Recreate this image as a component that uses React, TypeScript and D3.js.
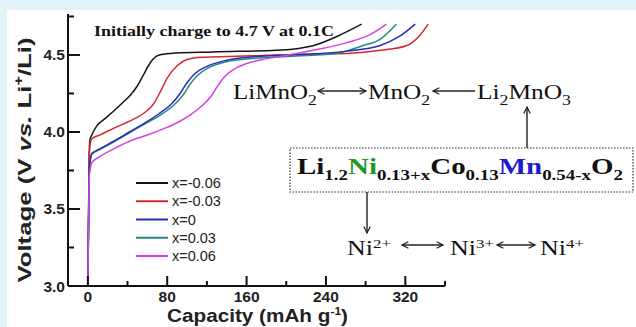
import { useMemo } from 'react';
import * as d3 from 'd3';

// charge curves, [capacity mAh/g, voltage V]
const curveNeg006: [number, number][] = [
  [0, 3.0], [0.8, 3.5], [1.3, 3.85], [2.2, 3.95], [4, 3.98], [9, 4.04], [16, 4.08], [25, 4.13],
  [35, 4.19], [43, 4.24], [50, 4.3], [56, 4.37], [61, 4.43], [66, 4.475], [72, 4.5], [83, 4.51],
  [126, 4.52], [190, 4.53], [227, 4.56], [251, 4.62], [276, 4.7],
];
const curveNeg003: [number, number][] = [
  [0, 3.0], [0.8, 3.5], [1.4, 3.82], [2.5, 3.93], [4, 3.956], [12, 3.98], [28, 4.03], [42, 4.07],
  [58, 4.13], [66, 4.18], [73, 4.26], [80, 4.35], [90, 4.43], [100, 4.47], [115, 4.485],
  [143, 4.49], [190, 4.5], [261, 4.51], [295, 4.53], [321, 4.56], [335, 4.63], [343, 4.7],
];
const curveZero: [number, number][] = [
  [0, 3.0], [0.9, 3.5], [1.6, 3.76], [4, 3.86], [12, 3.89], [26, 3.94], [42, 4.0], [58, 4.06],
  [72, 4.12], [84, 4.18], [93, 4.25], [100, 4.32], [108, 4.38], [118, 4.42], [136, 4.46],
  [170, 4.49], [200, 4.5], [261, 4.525], [294, 4.56], [314, 4.62], [330, 4.7],
];
const curvePos003: [number, number][] = [
  [0, 3.0], [0.9, 3.5], [1.6, 3.76], [4, 3.855], [12, 3.885], [26, 3.935], [42, 3.995],
  [58, 4.055], [73, 4.11], [86, 4.17], [96, 4.24], [103, 4.31], [111, 4.37], [121, 4.415],
  [139, 4.455], [172, 4.48], [200, 4.49], [250, 4.51], [277, 4.56], [294, 4.6], [311, 4.7],
];
const curvePos006: [number, number][] = [
  [0, 3.0], [0.9, 3.5], [1.6, 3.72], [4, 3.8], [12, 3.84], [26, 3.89], [42, 3.94], [60, 3.98],
  [76, 4.02], [90, 4.06], [103, 4.11], [115, 4.17], [124, 4.23], [131, 4.3], [138, 4.36],
  [148, 4.41], [160, 4.445], [176, 4.47], [194, 4.49], [227, 4.53], [261, 4.58], [284, 4.63],
  [301, 4.7],
];

const seriesNames = ['x=-0.06', 'x=-0.03', 'x=0', 'x=0.03', 'x=0.06'];
const seriesColors = ['#141414', '#d8282c', '#2a2ab8', '#238a84', '#d443e0'];
const seriesData = [curveNeg006, curveNeg003, curveZero, curvePos003, curvePos006];
// curves drawn back-to-front
const drawOrder = [0, 1, 3, 2, 4];

const xMajorTicks = [0, 80, 160, 240, 320];
const xMinorTicks = [40, 120, 200, 280, 360];
const yMajorTicks = [3.0, 3.5, 4.0, 4.5];
const yMinorTicks = [3.25, 3.75, 4.25, 4.75];

const W = 636;
const H = 327;
const sans = '"Liberation Sans", Arial, sans-serif';
const serif = '"Liberation Serif", "Times New Roman", serif';
// serif annotations in the picture are drawn wider than the font
const stretch = (x0: number, k: number) => `translate(${x0},0) scale(${k},1) translate(${-x0},0)`;

const App = () => {
  const x = d3.scaleLinear().domain([-20, 360]).range([68, 445]);
  const y = d3.scaleLinear().domain([3.0, 4.766]).range([286, 14]);

  const paths = useMemo(() => {
    const line = d3.line<[number, number]>()
      .x((d) => x(d[0]))
      .y((d) => y(d[1]))
      .curve(d3.curveMonotoneX);
    return seriesData.map((s) => line(s) as string);
  }, []);

  const legendY = d3.scalePoint<string>().domain(seriesNames).range([183, 256]);
  const x0 = x(-20);
  const y0 = y(3.0);

  return (
    <svg width={W} height={H} style={{ position: 'absolute', left: 0, top: 0, display: 'block' }}>
      <defs>
        <marker id="ah" viewBox="0 0 10 10" refX="9" refY="5" markerWidth="8" markerHeight="8"
          markerUnits="userSpaceOnUse" orient="auto-start-reverse">
          <path d="M1,1 L9,5 L1,9" fill="none" stroke="#222" strokeWidth="1.5" />
        </marker>
      </defs>
      <rect x={0} y={0} width={W} height={H} fill="#e2f2fa" />
      <rect x={7} y={10} width={W - 7} height={H - 10} fill="#ffffff" />

      {/* curves */}
      {drawOrder.map((i) => (
        <path key={i} d={paths[i]} fill="none" stroke={seriesColors[i]} strokeWidth={1.5} />
      ))}

      {/* axes, ticks pointing inward */}
      <g stroke="#111" strokeWidth={2}>
        <line x1={x0} x2={x(360)} y1={y0} y2={y0} />
        <line x1={x0} x2={x0} y1={y0} y2={y(4.766)} />
        {xMajorTicks.map((t) => (
          <line key={t} x1={x(t)} x2={x(t)} y1={y0} y2={y0 - 10} />
        ))}
        {xMinorTicks.map((t) => (
          <line key={t} x1={x(t)} x2={x(t)} y1={y0} y2={y0 - 5} />
        ))}
        {yMajorTicks.map((t) => (
          <line key={t} x1={x0} x2={x0 + 12} y1={y(t)} y2={y(t)} />
        ))}
        {yMinorTicks.map((t) => (
          <line key={t} x1={x0} x2={x0 + 6} y1={y(t)} y2={y(t)} />
        ))}
      </g>
      <g fontFamily={sans} fontWeight="bold" fontSize={15.5} fill="#222">
        {xMajorTicks.map((t) => (
          <text key={t} x={x(t)} y={302} textAnchor="middle">{t}</text>
        ))}
        {yMajorTicks.map((t) => (
          <text key={t} x={65} y={y(t) + 5.5} textAnchor="end">{t.toFixed(1)}</text>
        ))}
      </g>
      <text x={167} y={322} textLength={181} lengthAdjust="spacingAndGlyphs" fontFamily={sans}
        fontWeight="bold" fontSize={19} fill="#222">
        Capacity (mAh g<tspan dy={-7} fontSize={11}>-1</tspan><tspan dy={7}>)</tspan>
      </text>
      <text transform="translate(31,160) rotate(-90)" textAnchor="middle" textLength={245}
        lengthAdjust="spacingAndGlyphs" fontFamily={sans} fontWeight="bold" fontSize={19} fill="#222">
        Voltage (V <tspan fontStyle="italic">vs.</tspan> Li<tspan dy={-8} fontSize={12}>+</tspan>
        <tspan dy={8}>/Li)</tspan>
      </text>

      <text x={94} y={36} transform={stretch(94, 1.24)} fontFamily={serif} fontWeight="bold"
        fontSize={14.5} fill="#111">
        Initially charge to 4.7 V at 0.1C
      </text>

      {/* legend */}
      {seriesNames.map((n, i) => (
        <g key={n} transform={`translate(0,${legendY(n)})`}>
          <line x1={136} x2={168} y1={0} y2={0} stroke={seriesColors[i]} strokeWidth={2} />
          <text x={172} y={5} fontFamily={sans} fontSize={14.5} fill="#222">{n}</text>
        </g>
      ))}

      {/* reaction annotations */}
      <g fontFamily={serif} fontSize={20} fill="#111">
        <text x={233} y={99} transform={stretch(233, 1.25)}>LiMnO<tspan dy={6} fontSize={14}>2</tspan></text>
        <text x={368} y={99} transform={stretch(368, 1.26)}>MnO<tspan dy={6} fontSize={14}>2</tspan></text>
        <text x={477} y={99} transform={stretch(477, 1.27)}>Li<tspan dy={6} fontSize={14}>2</tspan><tspan dy={-6}>MnO</tspan><tspan dy={6} fontSize={14}>3</tspan></text>
        <text x={347} y={255} transform={stretch(347, 1.3)}>Ni<tspan dy={-7} fontSize={13}>2+</tspan></text>
        <text x={450} y={255} transform={stretch(450, 1.3)}>Ni<tspan dy={-7} fontSize={13}>3+</tspan></text>
        <text x={540} y={255} transform={stretch(540, 1.3)}>Ni<tspan dy={-7} fontSize={13}>4+</tspan></text>
      </g>
      <g stroke="#222" strokeWidth={1.4} fill="none">
        <line x1={318} x2={366} y1={91} y2={91} markerStart="url(#ah)" markerEnd="url(#ah)" />
        <line x1={475} x2={433} y1={91} y2={91} markerEnd="url(#ah)" />
        <line x1={527} x2={527} y1={148} y2={107} markerEnd="url(#ah)" />
        <line x1={367} x2={367} y1={192} y2={233} markerEnd="url(#ah)" />
        <line x1={402} x2={443} y1={245} y2={245} markerStart="url(#ah)" markerEnd="url(#ah)" />
        <line x1={497} x2={535} y1={245} y2={245} markerStart="url(#ah)" markerEnd="url(#ah)" />
      </g>
      <rect x={290} y={148} width={343} height={44} fill="none" stroke="#333" strokeWidth={1.2}
        strokeDasharray="1.5,1.5" />
      <text x={297} y={174} transform={stretch(297, 1.26)} fontFamily={serif} fontWeight="bold"
        fontSize={23} fill="#111">
        Li<tspan dy={6} fontSize={15}>1.2</tspan>
        <tspan dy={-6} fill="#1e9a1e">Ni</tspan>
        <tspan dy={6} fontSize={15}>0.13+x</tspan>
        <tspan dy={-6}>Co</tspan>
        <tspan dy={6} fontSize={15}>0.13</tspan>
        <tspan dy={-6} fill="#1c1cc8">Mn</tspan>
        <tspan dy={6} fontSize={15}>0.54-x</tspan>
        <tspan dy={-6}>O</tspan>
        <tspan dy={6} fontSize={15}>2</tspan>
      </text>
    </svg>
  );
};

export default App;
